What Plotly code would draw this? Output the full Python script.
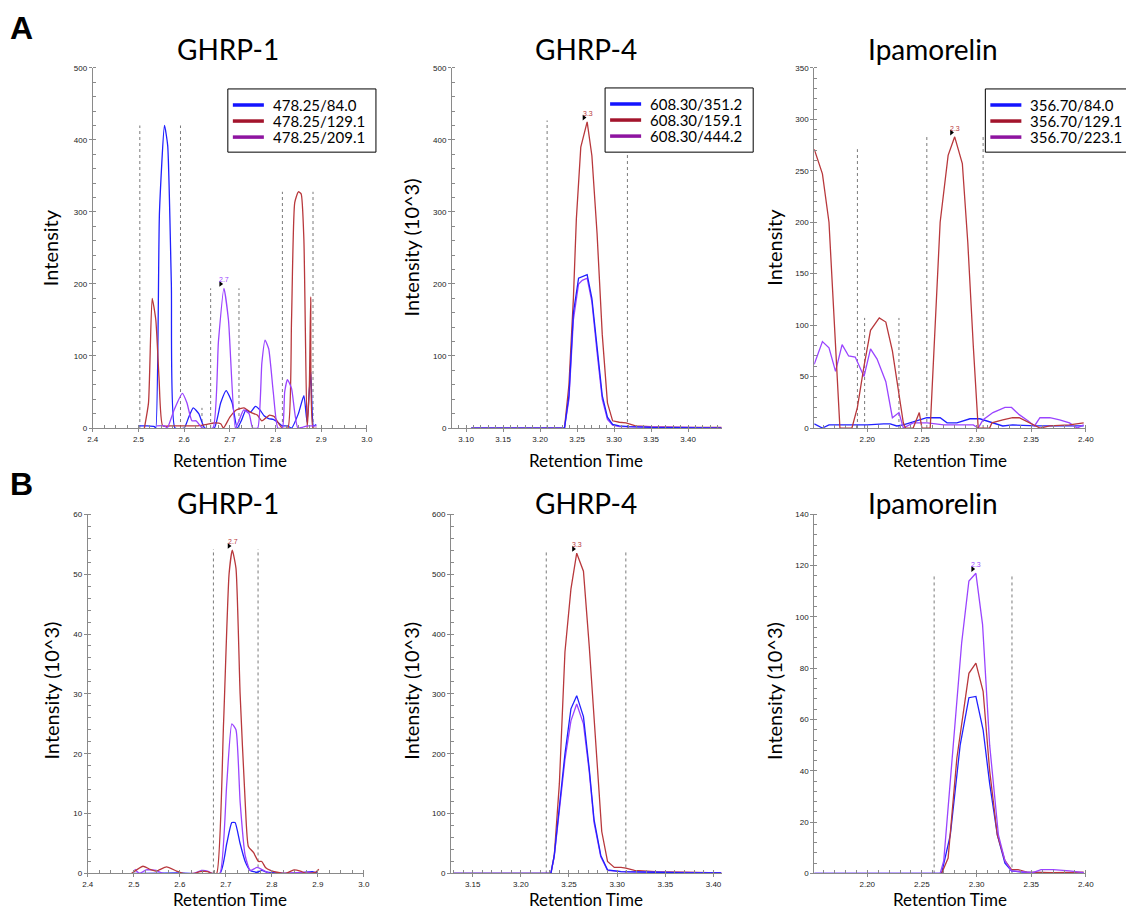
import plotly.graph_objects as go

# ---------------- data ----------------
# Panel A / GHRP-1 (intensity)
a1_blue_x = [2.502, 2.52, 2.535, 2.538, 2.546, 2.557, 2.564, 2.572, 2.580, 2.60, 2.61, 2.62, 2.632, 2.645, 2.666, 2.68, 2.692, 2.705, 2.716, 2.725, 2.735, 2.745, 2.756, 2.766, 2.775, 2.785, 2.795, 2.805, 2.815, 2.826, 2.835, 2.85, 2.862, 2.869, 2.877, 2.883, 2.889]
a1_blue_y = [3, 3, 2, 0, 300, 420, 392, 200, 0, 0, 15, 28, 20, 0, 0, 35, 52, 35, 0, 10, 25, 22, 30, 25, 17, 13, 12, 8, 3, 3, 0, 20, 45, 8, 78, 3, 5]
a1_red_x = [2.513, 2.522, 2.530, 2.538, 2.545, 2.553, 2.57, 2.60, 2.63, 2.65, 2.665, 2.68, 2.686, 2.70, 2.714, 2.731, 2.745, 2.76, 2.77, 2.787, 2.797, 2.808, 2.815, 2.827, 2.835, 2.842, 2.85, 2.856, 2.862, 2.869, 2.874, 2.877, 2.882, 2.89]
a1_red_y = [0, 35, 180, 150, 70, 3, 3, 3, 3, 5, 7, 6, 0, 15, 25, 28, 22, 18, 10, 18, 16, 5, 0, 0, 150, 313, 328, 325, 262, 0, 60, 182, 0, 0]
a1_purple_x = [2.54, 2.557, 2.563, 2.578, 2.596, 2.606, 2.617, 2.626, 2.64, 2.663, 2.675, 2.687, 2.697, 2.712, 2.72, 2.73, 2.742, 2.75, 2.761, 2.77, 2.777, 2.785, 2.795, 2.805, 2.815, 2.82, 2.826, 2.835, 2.849, 2.87, 2.89]
a1_purple_y = [3, 3, 0, 25, 48, 35, 10, 10, 0, 0, 120, 194, 150, 0, 10, 25, 20, 0, 0, 90, 122, 110, 50, 0, 0, 50, 67, 55, 0, 3, 3]
a1_marks_x = [2.503, 2.592, 2.639, 2.658, 2.720, 2.815, 2.882]
a1_marks_h = [420, 420, 28, 194, 194, 328, 328]

# Panel A / GHRP-4 (intensity 10^3)
a2_blue_x = [3.107, 3.20, 3.226, 3.233, 3.239, 3.245, 3.252, 3.257, 3.2636, 3.27, 3.277, 3.284, 3.291, 3.298, 3.307, 3.32, 3.35, 3.40, 3.445]
a2_blue_y = [0, 0, 0, 0, 45, 160, 208, 210, 213, 180, 110, 45, 15, 5, 3, 2, 1, 1, 0]
a2_red_x = [3.107, 3.20, 3.233, 3.239, 3.245, 3.249, 3.255, 3.2636, 3.27, 3.277, 3.284, 3.291, 3.298, 3.307, 3.316, 3.329, 3.35, 3.40, 3.445]
a2_red_y = [0, 0, 0, 60, 180, 290, 390, 425, 378, 270, 130, 35, 10, 8, 7, 3, 2, 1, 1]
a2_purple_x = [3.107, 3.20, 3.233, 3.239, 3.245, 3.252, 3.257, 3.2636, 3.27, 3.277, 3.284, 3.291, 3.298, 3.307, 3.32, 3.40, 3.445]
a2_purple_y = [0, 0, 0, 40, 150, 200, 205, 208, 175, 105, 40, 12, 4, 2, 2, 1, 0]
a2_marks_x = [3.2095, 3.318]
a2_marks_h = [427, 427]

# Panel A / Ipamorelin (intensity)
a3_red_x = [2.1515, 2.159, 2.165, 2.170, 2.175, 2.186, 2.191, 2.197, 2.203, 2.211, 2.217, 2.223, 2.229, 2.233, 2.235, 2.242, 2.2476, 2.250, 2.2576, 2.262, 2.2667, 2.274, 2.280, 2.287, 2.292, 2.297, 2.3015, 2.312, 2.314, 2.324, 2.333, 2.339, 2.345, 2.352, 2.358, 2.367, 2.385, 2.398]
a3_red_y = [271, 247, 200, 100, 0, 0, 20, 60, 95, 107, 103, 75, 35, 5, 0, 0, 15, 0, 0, 90, 200, 265, 283, 257, 180, 80, 0, 0, 5, 8, 10, 10, 7, 3, 0, 2, 3, 5]
a3_purple_x = [2.1515, 2.159, 2.165, 2.171, 2.177, 2.183, 2.189, 2.197, 2.203, 2.209, 2.217, 2.223, 2.229, 2.233, 2.242, 2.255, 2.27, 2.285, 2.297, 2.3015, 2.306, 2.315, 2.326, 2.332, 2.339, 2.347, 2.353, 2.358, 2.367, 2.376, 2.385, 2.392, 2.398]
a3_purple_y = [62, 84, 78, 55, 81, 70, 69, 50, 77, 67, 45, 10, 15, 0, 5, 5, 3, 3, 3, 0, 8, 15, 20, 20, 13, 7, 2, 10, 10, 8, 5, 0, 3]
a3_blue_x = [2.1515, 2.159, 2.165, 2.18, 2.20, 2.215, 2.221, 2.227, 2.233, 2.245, 2.2545, 2.2667, 2.273, 2.282, 2.294, 2.303, 2.312, 2.324, 2.333, 2.355, 2.385, 2.398]
a3_blue_y = [4, 0, 3, 3, 3, 4, 4, 2, 3, 7, 10, 10, 5, 5, 9, 9, 6, 2, 3, 2, 2, 2]
a3_marks_x = [2.191, 2.1976, 2.229, 2.2545, 2.306]
a3_marks_h = [271, 107, 107, 284, 284]

# Panel B / GHRP-1 (intensity 10^3)
b1_red_x = [2.495, 2.52, 2.535, 2.549, 2.571, 2.593, 2.607, 2.630, 2.644, 2.66, 2.67, 2.68, 2.695, 2.707, 2.714, 2.722, 2.731, 2.742, 2.749, 2.76, 2.771, 2.778, 2.786, 2.797, 2.811, 2.83, 2.848, 2.862, 2.875, 2.895, 2.902]
b1_red_y = [0, 1.2, 0.7, 0.4, 1.1, 0.4, 0, 0, 0.3, 0.3, 0, 0, 25, 50, 54, 51, 30, 12, 4.5, 3.5, 2, 2, 1, 0.5, 0.2, 0, 0.6, 0.4, 0, 0.2, 0.7]
b1_purple_x = [2.502, 2.513, 2.527, 2.549, 2.563, 2.63, 2.647, 2.66, 2.67, 2.687, 2.702, 2.713, 2.722, 2.731, 2.742, 2.753, 2.768, 2.782, 2.797, 2.82, 2.88, 2.89]
b1_purple_y = [0.7, 0, 0.6, 0.5, 0, 0, 0.5, 0.4, 0, 0, 15, 25, 24, 12, 3, 0.5, 1.0, 0.5, 0, 0, 0.2, 0]
b1_blue_x = [2.50, 2.60, 2.687, 2.702, 2.713, 2.720, 2.731, 2.742, 2.753, 2.768, 2.778, 2.79, 2.85, 2.888, 2.90]
b1_blue_y = [0, 0.1, 0, 5, 8.5, 8.5, 5, 2, 0.5, 0.2, 0.5, 0.2, 0, 0.3, 0]
b1_marks_x = [2.673, 2.770]
b1_marks_h = [54.2, 54.2]

# Panel B / GHRP-4 (intensity 10^3)
b2_red_x = [3.13, 3.21, 3.2295, 3.2312, 3.2347, 3.240, 3.2458, 3.252, 3.258, 3.265, 3.271, 3.278, 3.284, 3.290, 3.297, 3.304, 3.309, 3.318, 3.34, 3.37, 3.408]
b2_red_y = [0, 0, 0, 0, 30, 150, 370, 475, 535, 505, 380, 210, 70, 20, 10, 10, 9, 5, 3, 2, 1]
b2_blue_x = [3.13, 3.21, 3.2312, 3.2347, 3.2416, 3.2458, 3.252, 3.258, 3.265, 3.271, 3.276, 3.283, 3.290, 3.304, 3.34, 3.37, 3.408]
b2_blue_y = [0, 0, 0, 30, 140, 200, 275, 297, 262, 175, 90, 30, 6, 3, 2, 1, 1]
b2_purple_x = [3.13, 3.21, 3.2312, 3.2347, 3.2416, 3.2458, 3.252, 3.258, 3.265, 3.271, 3.276, 3.283, 3.290, 3.304, 3.34, 3.408]
b2_purple_y = [0, 0, 0, 28, 130, 190, 255, 283, 250, 170, 85, 28, 5, 3, 2, 1]
b2_marks_x = [3.2264, 3.309]
b2_marks_h = [537, 537]

# Panel B / Ipamorelin (intensity 10^3)
b3_purple_x = [2.1515, 2.25, 2.2667, 2.270, 2.277, 2.2864, 2.293, 2.2994, 2.3055, 2.312, 2.320, 2.326, 2.332, 2.342, 2.3515, 2.359, 2.370, 2.385, 2.398]
b3_purple_y = [0, 0, 0, 5, 40, 90, 114, 117, 97, 50, 15, 5, 1, 0.5, 0.3, 1.5, 1.5, 1, 0.3]
b3_red_x = [2.268, 2.274, 2.282, 2.293, 2.2994, 2.306, 2.312, 2.319, 2.326, 2.332, 2.338, 2.346, 2.370, 2.398]
b3_red_y = [0, 6, 45, 78, 82, 71, 40, 15, 5, 1.5, 1.5, 0.5, 0.3, 0.5]
b3_blue_x = [2.1515, 2.25, 2.268, 2.276, 2.285, 2.293, 2.2994, 2.306, 2.312, 2.319, 2.326, 2.332, 2.342, 2.398]
b3_blue_y = [0, 0, 0, 15, 50, 68.5, 69, 56, 35, 15, 4, 1, 0.5, 0]
b3_marks_x = [2.2612, 2.3324]
b3_marks_h = [116.3, 116.3]

# peak labels: x, y, text
a1_peak = (2.687, 194, "2.7")
a2_peak = (3.2636, 425, "3.3")
a3_peak = (2.280, 283, "2.3")
b1_peak = (2.714, 54, "2.7")
b2_peak = (3.258, 535, "3.3")
b3_peak = (2.2994, 117, "2.3")

titles = ["GHRP-1", "GHRP-4", "Ipamorelin"]
legend_a1 = ["478.25/84.0", "478.25/129.1", "478.25/209.1"]
legend_a2 = ["608.30/351.2", "608.30/159.1", "608.30/444.2"]
legend_a3 = ["356.70/84.0", "356.70/129.1", "356.70/223.1"]
ylab_top = ["Intensity", "Intensity (10^3)", "Intensity"]
ylab_bot = ["Intensity (10^3)", "Intensity (10^3)", "Intensity (10^3)"]
xlab = "Retention Time"

# ---------------- styling ----------------
W, H = 1134, 914
BLUE, RED, PURPLE = "#2020ff", "#b8383c", "#9a44ff"
LEG_COLORS = ["#1414ff", "#a3142c", "#8e14a0"]
FONT = "Lato"
AXC = "#8a8a8a"
# the page shows the figure slightly offset/scaled; compensate so screen pixels match
OFF, SC = 13.3, 0.987

def fx(v):
    return (v - OFF) / SC

def px(v):
    return fx(v) / W

def py(v):
    return 1 - fx(v) / H

def dom_x(a, b):
    return [px(a), px(b)]

def dom_y(top, bottom):
    return [py(bottom), py(top)]

panels = [
    dict(px=(92, 366), py=(69, 428), xr=[2.4, 3.0], xd=0.1, xf=".1f", xm=0.025, yr=[0, 500], yd=100, ym=20,
         tr=[(a1_blue_x, a1_blue_y, BLUE), (a1_red_x, a1_red_y, RED), (a1_purple_x, a1_purple_y, PURPLE)],
         mk=(a1_marks_x, a1_marks_h), pk=a1_peak, pc=PURPLE, sh="spline"),
    dict(px=(451, 721), py=(69, 428), xr=[3.081, 3.446], xd=0.05, xf=".2f", xm=0.01, yr=[0, 500], yd=100, ym=20,
         tr=[(a2_red_x, a2_red_y, RED), (a2_purple_x, a2_purple_y, PURPLE), (a2_blue_x, a2_blue_y, BLUE)],
         mk=(a2_marks_x, a2_marks_h), pk=a2_peak, pc=RED, sh="linear"),
    dict(px=(813, 1085), py=(69, 428), xr=[2.1515, 2.4005], xd=0.05, xf=".2f", xm=0.01, yr=[0, 350], yd=50, ym=10,
         tr=[(a3_blue_x, a3_blue_y, BLUE), (a3_purple_x, a3_purple_y, PURPLE), (a3_red_x, a3_red_y, RED)],
         mk=(a3_marks_x, a3_marks_h), pk=a3_peak, pc=RED, sh="linear"),
    dict(px=(87, 363), py=(514, 872), xr=[2.4, 3.0], xd=0.1, xf=".1f", xm=0.025, yr=[0, 60], yd=10, ym=2,
         tr=[(b1_blue_x, b1_blue_y, BLUE), (b1_purple_x, b1_purple_y, PURPLE), (b1_red_x, b1_red_y, RED)],
         mk=(b1_marks_x, b1_marks_h), pk=b1_peak, pc=RED, sh="spline"),
    dict(px=(450, 721), py=(514, 872), xr=[3.1275, 3.409], xd=0.05, xf=".2f", xm=0.01, yr=[0, 600], yd=100, ym=20,
         tr=[(b2_red_x, b2_red_y, RED), (b2_purple_x, b2_purple_y, PURPLE), (b2_blue_x, b2_blue_y, BLUE)],
         mk=(b2_marks_x, b2_marks_h), pk=b2_peak, pc=RED, sh="linear"),
    dict(px=(813, 1085), py=(514, 872), xr=[2.1515, 2.4005], xd=0.05, xf=".2f", xm=0.01, yr=[0, 140], yd=20, ym=4,
         tr=[(b3_blue_x, b3_blue_y, BLUE), (b3_red_x, b3_red_y, RED), (b3_purple_x, b3_purple_y, PURPLE)],
         mk=(b3_marks_x, b3_marks_h), pk=b3_peak, pc=PURPLE, sh="linear"),
]

fig = go.Figure()
layout = dict(width=W, height=H, margin=dict(l=0, r=0, t=0, b=0),
              paper_bgcolor="white", plot_bgcolor="white", showlegend=False)
annotations = []
shapes = []

for i, p in enumerate(panels, start=1):
    xa = "x" if i == 1 else f"x{i}"
    ya = "y" if i == 1 else f"y{i}"
    axis_common = dict(showgrid=False, zeroline=False, showline=True, linecolor=AXC, linewidth=1,
                       ticks="outside", ticklen=3, tickcolor=AXC, tickwidth=1,
                       tickfont=dict(family="Liberation Sans", size=8, color="#222222"))
    layout["xaxis" if i == 1 else f"xaxis{i}"] = dict(
        domain=dom_x(*p["px"]), range=p["xr"], dtick=p["xd"], tick0=2.4 if p["xd"] == 0.1 else 3.0,
        tickformat=p["xf"], anchor=ya,
        minor=dict(dtick=p["xm"], ticks="inside", ticklen=3, tickcolor=AXC), **axis_common)
    layout["yaxis" if i == 1 else f"yaxis{i}"] = dict(
        domain=dom_y(*p["py"]), range=p["yr"], dtick=p["yd"], anchor=xa,
        minor=dict(dtick=p["ym"], ticks="inside", ticklen=3, tickcolor=AXC), **axis_common)

    # integration boundary markers
    mx, mh = p["mk"]
    vx, vy = [], []
    for xv, hv in zip(mx, mh):
        vx += [xv, xv, None]
        vy += [0, hv, None]
    fig.add_trace(go.Scatter(x=vx, y=vy, mode="lines", xaxis=xa, yaxis=ya, showlegend=False,
                             line=dict(color="#7a7a7a", width=1, dash="dot"), hoverinfo="skip"))
    for xs, ys, col in p["tr"]:
        fig.add_trace(go.Scatter(x=xs, y=ys, mode="lines", xaxis=xa, yaxis=ya, showlegend=False,
                                 line=dict(color=col, width=1.3, shape=p["sh"], smoothing=0.5)))
    # peak label
    pxv, pyv, ptxt = p["pk"]
    span = p["xr"][1] - p["xr"][0]
    fig.add_trace(go.Scatter(x=[pxv - span * 0.012], y=[pyv + (p["yr"][1]) * 0.012], mode="markers",
                             xaxis=xa, yaxis=ya, showlegend=False,
                             marker=dict(symbol="triangle-right", size=5, color="black")))
    annotations.append(dict(x=pxv + span * 0.002, y=pyv, xref=xa, yref=ya, text=ptxt, showarrow=False,
                            xanchor="center", yanchor="bottom", yshift=3,
                            font=dict(family="Liberation Sans", size=7, color=p["pc"])))

# legend boxes (top row), drawn as box + swatches + real text
leg_boxes = [(227, 90, 375, 153), (604, 89, 752, 153), (984, 90, 1128, 153)]
row_off = [16, 32, 48]
for labels, (x0, y0, x1, y1) in zip([legend_a1, legend_a2, legend_a3], leg_boxes):
    shapes.append(dict(type="rect", xref="paper", yref="paper", x0=px(x0), x1=px(x1), y0=py(y1), y1=py(y0),
                       line=dict(color="black", width=1), fillcolor="white", layer="above"))
    for lab, col, ro in zip(labels, LEG_COLORS, row_off):
        yy = y0 + ro
        shapes.append(dict(type="line", xref="paper", yref="paper", x0=px(x0 + 5), x1=px(x0 + 36),
                           y0=py(yy), y1=py(yy), line=dict(color=col, width=3.5), layer="above"))
        annotations.append(dict(x=px(x0 + 43), y=py(yy), xref="paper", yref="paper", text=lab,
                                showarrow=False, xanchor="left", yanchor="middle",
                                font=dict(family=FONT, size=15, color="black")))

# titles and axis labels
title_x = [227, 585, 932]
xlab_x = [229, 585, 949]
ylab_x = [50, 410, 773]
for k in range(3):
    for yy, txt, size in [(50, titles[k], 28), (503, titles[k], 28), (460, xlab, 17), (898, xlab, 17)]:
        xx = title_x[k] if size == 28 else xlab_x[k]
        annotations.append(dict(x=px(xx), y=py(yy), xref="paper", yref="paper", text=txt,
                                showarrow=False, xanchor="center", yanchor="middle",
                                font=dict(family=FONT, size=size, color="black")))
    annotations.append(dict(x=px(ylab_x[k]), y=py(248), xref="paper", yref="paper", text=ylab_top[k],
                            textangle=-90, showarrow=False, xanchor="center", yanchor="middle",
                            font=dict(family=FONT, size=20, color="black")))
    annotations.append(dict(x=px(ylab_x[k]), y=py(690), xref="paper", yref="paper", text=ylab_bot[k],
                            textangle=-90, showarrow=False, xanchor="center", yanchor="middle",
                            font=dict(family=FONT, size=20, color="black")))

annotations.append(dict(x=px(21), y=py(29), xref="paper", yref="paper", text="<b>A</b>", showarrow=False,
                        xanchor="center", yanchor="middle",
                        font=dict(family="Liberation Sans", size=32, color="black")))
annotations.append(dict(x=px(21), y=py(484), xref="paper", yref="paper", text="<b>B</b>", showarrow=False,
                        xanchor="center", yanchor="middle",
                        font=dict(family="Liberation Sans", size=32, color="black")))

layout["annotations"] = annotations
layout["shapes"] = shapes
fig.update_layout(**layout)
fig.write_html("out.html")
